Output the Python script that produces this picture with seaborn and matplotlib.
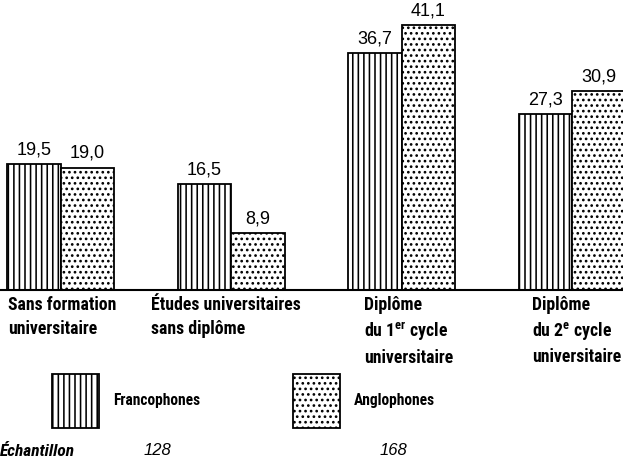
import matplotlib
matplotlib.use("Agg")
import matplotlib.pyplot as plt
import matplotlib.transforms as mtransforms
import seaborn as sns
import pandas as pd

# Data (percentages)
categories = [
    "Sans formation\nuniversitaire",
    "Études universitaires\nsans diplôme",
    "Diplôme\ndu 1$^{er}$ cycle\nuniversitaire",
    "Diplôme\ndu 2$^{e}$ cycle\nuniversitaire",
]
francophones = [19.5, 16.5, 36.7, 27.3]
anglophones = [19.0, 8.9, 41.1, 30.9]
groups = ["Francophones", "Anglophones"]
sample_sizes = ["128", "168"]

df = pd.DataFrame({
    "cat": categories * 2,
    "groupe": [groups[0]] * 4 + [groups[1]] * 4,
    "val": francophones + anglophones,
})

sns.set_theme(style="white")
cond = ["Roboto Condensed", "Barlow Condensed", "Fira Sans Condensed", "DejaVu Sans"]
plain = ["Liberation Sans", "DejaVu Sans"]
plt.rcParams["font.family"] = cond
plt.rcParams["text.color"] = "black"
plt.rcParams["mathtext.default"] = "regular"
plt.rcParams["hatch.linewidth"] = 1.15

fig = plt.figure(figsize=(6.23, 4.73), dpi=100)
ax = fig.add_axes([0, 0.387, 1, 0.613])

sns.barplot(data=df, x="cat", y="val", hue="groupe", hue_order=groups,
            palette=["white", "white"], edgecolor="black", linewidth=1.3,
            width=0.627, gap=0, legend=False, ax=ax)

hatches = ["|||", "..."]
for cont, h in zip(ax.containers, hatches):
    for p in cont:
        p.set_hatch(h)
    ax.bar_label(cont, labels=[f"{v:.1f}".replace(".", ",") for v in cont.datavalues],
                 padding=4, fontsize=13, family=plain, color="black")

ax.set_xlim(-0.355, 3.297)
ax.set_ylim(0, 45)
ax.set_xticks([])
ax.set_yticks([])
ax.set_xlabel("")
ax.set_ylabel("")
for s in ["left", "right", "top"]:
    ax.spines[s].set_visible(False)
ax.spines["bottom"].set_color("black")
ax.spines["bottom"].set_linewidth(1.5)

# category labels, left-aligned under each group
label_dx = [-0.31, -0.47, -0.22, -0.235]
trans = mtransforms.blended_transform_factory(ax.transData, ax.transAxes)
for i, (lab, dx) in enumerate(zip(categories, label_dx)):
    ax.text(i + dx, -0.022, lab, transform=trans, ha="left", va="top",
            fontsize=12.8, fontweight="semibold", linespacing=1.38)

# legend entries
for cont, lab, x0 in zip(ax.containers, groups, [52, 293]):
    fig.legend(handles=[cont.patches[0]], labels=[lab], loc="center left",
               bbox_to_anchor=(x0 / 623, 1 - 401 / 473), frameon=False,
               borderpad=0, borderaxespad=0, handlelength=3.0,
               handleheight=5.0, handletextpad=0.9,
               prop={"family": cond, "size": 11.2, "weight": "semibold"})

fig.text(0, 1 - 451 / 473, "Échantillon", ha="left", va="center",
         fontsize=12.5, fontweight="semibold", style="italic")
for s, xc in zip(sample_sizes, [157, 393]):
    fig.text(xc / 623, 1 - 450 / 473, s, ha="center", va="center",
             fontsize=12, style="italic", family=plain)

fig.savefig("out.png", dpi=100)
